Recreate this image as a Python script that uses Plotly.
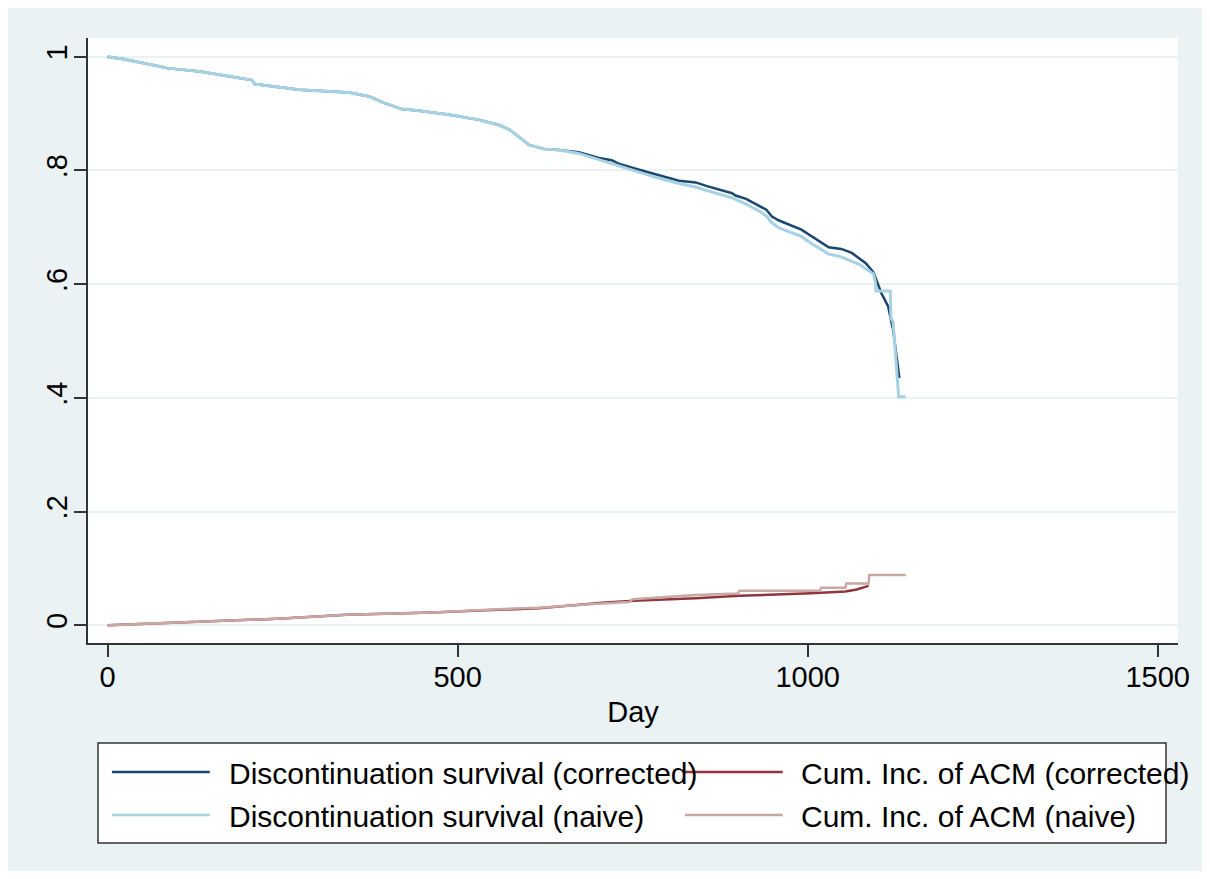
import plotly.graph_objects as go

# Kaplan-Meier discontinuation survival
surv_corr_day = [0, 22, 75, 85, 132, 179, 206, 210, 227, 274, 345, 374, 395, 420, 445, 488,
                 531, 559, 574, 588, 602, 623, 645, 673, 702, 720, 730, 763, 783, 816, 840,
                 855, 892, 897, 912, 930, 941, 949, 959, 991, 1006, 1030, 1048, 1063, 1083,
                 1094, 1098, 1105, 1115, 1122, 1131]
surv_corr_val = [1.0, 0.996, 0.983, 0.980, 0.974, 0.965, 0.959, 0.952, 0.949, 0.942, 0.937,
                 0.930, 0.919, 0.908, 0.905, 0.898, 0.889, 0.880, 0.872, 0.859, 0.845, 0.838,
                 0.836, 0.832, 0.822, 0.818, 0.812, 0.800, 0.793, 0.782, 0.779, 0.773, 0.760,
                 0.756, 0.750, 0.738, 0.731, 0.719, 0.712, 0.696, 0.684, 0.665, 0.662, 0.655,
                 0.637, 0.621, 0.608, 0.585, 0.561, 0.520, 0.435]

surv_naive_day = [0, 22, 75, 85, 132, 179, 206, 210, 227, 274, 345, 374, 395, 420, 445, 488,
                  531, 559, 574, 588, 602, 623, 645, 673, 702, 730, 763, 783, 816, 840, 855,
                  892, 912, 930, 941, 949, 959, 991, 1006, 1030, 1048, 1063, 1075, 1083, 1094,
                  1097, 1097.5, 1118, 1119, 1122, 1130, 1140]
surv_naive_val = [1.0, 0.996, 0.983, 0.980, 0.974, 0.965, 0.959, 0.952, 0.949, 0.942, 0.937,
                  0.930, 0.919, 0.908, 0.905, 0.898, 0.889, 0.880, 0.872, 0.859, 0.845, 0.838,
                  0.836, 0.830, 0.819, 0.808, 0.796, 0.788, 0.777, 0.771, 0.765, 0.752, 0.741,
                  0.729, 0.720, 0.708, 0.699, 0.684, 0.671, 0.653, 0.648, 0.641, 0.634, 0.627,
                  0.618, 0.602, 0.588, 0.588, 0.540, 0.534, 0.402, 0.402]

# cumulative incidence of all-cause mortality
acm_corr_day = [0, 100, 179, 250, 341, 464, 531, 616, 711, 759, 840, 902, 1005, 1054, 1070, 1087]
acm_corr_val = [0, 0.005, 0.0097, 0.012, 0.0185, 0.0225, 0.026, 0.0303, 0.0401, 0.0436,
                0.0478, 0.0519, 0.0566, 0.0594, 0.063, 0.0695]

acm_naive_day = [0, 100, 179, 250, 341, 464, 559, 616, 700, 745, 750, 840, 900, 903, 1018,
                 1019, 1054, 1055, 1087, 1088, 1140]
acm_naive_val = [0, 0.005, 0.0097, 0.012, 0.0185, 0.0225, 0.0285, 0.031, 0.038, 0.041, 0.046,
                 0.0536, 0.056, 0.061, 0.061, 0.066, 0.066, 0.0735, 0.0735, 0.0888, 0.0888]

names = ["Discontinuation survival (corrected)", "Discontinuation survival (naive)",
         "Cum. Inc. of ACM (corrected)", "Cum. Inc. of ACM (naive)"]
colors = ["#1A476F", "#A6D2E4", "#90353B", "#C8A7A4"]

y_ticks = [0, 0.2, 0.4, 0.6, 0.8, 1]
y_labels = ["0", ".2", ".4", ".6", ".8", "1"]
x_ticks = [0, 500, 1000, 1500]

FONT = "Liberation Sans, Arial, sans-serif"
BG = "#EAF2F3"
W, H = 1194, 863
L, R, T, B = 80, 22, 30, 228


def px(x):
    # page pixel -> paper x
    return (x - 8 - L) / (W - L - R)


def py(y):
    # page pixel -> paper y
    return (H - B - (y - 8)) / (H - T - B)


fig = go.Figure()
fig.add_trace(go.Scatter(x=surv_corr_day, y=surv_corr_val, mode="lines", name=names[0],
                         line=dict(color=colors[0], width=2.5)))
fig.add_trace(go.Scatter(x=surv_naive_day, y=surv_naive_val, mode="lines", name=names[1],
                         line=dict(color=colors[1], width=3)))
fig.add_trace(go.Scatter(x=acm_corr_day, y=acm_corr_val, mode="lines", name=names[2],
                         line=dict(color=colors[2], width=2.5)))
fig.add_trace(go.Scatter(x=acm_naive_day, y=acm_naive_val, mode="lines", name=names[3],
                         line=dict(color=colors[3], width=2.5)))

# Stata-style legend box drawn by hand (2 columns)
shapes = [dict(type="rect", xref="paper", yref="paper", x0=px(98), x1=px(1168),
               y0=py(843), y1=py(743), line=dict(color="#333333", width=1.5),
               fillcolor="white", layer="below")]
annotations = []
legend_pos = [(0, 112, 210, 227, 772), (2, 686, 784, 800, 772),
              (1, 112, 210, 227, 815), (3, 686, 784, 800, 815)]
for idx, lx0, lx1, tx, ry in legend_pos:
    shapes.append(dict(type="line", xref="paper", yref="paper", x0=px(lx0), x1=px(lx1),
                       y0=py(ry), y1=py(ry), line=dict(color=colors[idx], width=2.5)))
    annotations.append(dict(text=names[idx], xref="paper", yref="paper", x=px(tx),
                            y=py(ry + 1), xanchor="left", yanchor="middle", showarrow=False,
                            font=dict(size=30, color="black", family=FONT)))

fig.update_layout(
    width=W, height=H,
    margin=dict(l=L, r=R, t=T, b=B),
    paper_bgcolor=BG, plot_bgcolor="white",
    font=dict(family=FONT, size=29, color="black"),
    showlegend=False,
    shapes=shapes,
    annotations=annotations,
)
fig.update_xaxes(
    range=[-28, 1529], tickvals=x_ticks, ticks="outside", ticklen=12, tickwidth=1.5,
    tickcolor="#333333", showline=True, linecolor="#333333", linewidth=1.5,
    showgrid=False, zeroline=False, ticklabelstandoff=-5,
    title=dict(text="Day", font=dict(size=29), standoff=10),
)
fig.update_yaxes(
    range=[-0.031, 1.033], tickvals=y_ticks, ticktext=y_labels, tickangle=-90,
    ticks="outside", ticklen=12, tickwidth=1.5, tickcolor="#333333", showline=True,
    linecolor="#333333", linewidth=1.5, showgrid=True, gridcolor=BG, gridwidth=2,
    zeroline=False, ticklabelstandoff=-4,
)

fig.write_html("out.html")
